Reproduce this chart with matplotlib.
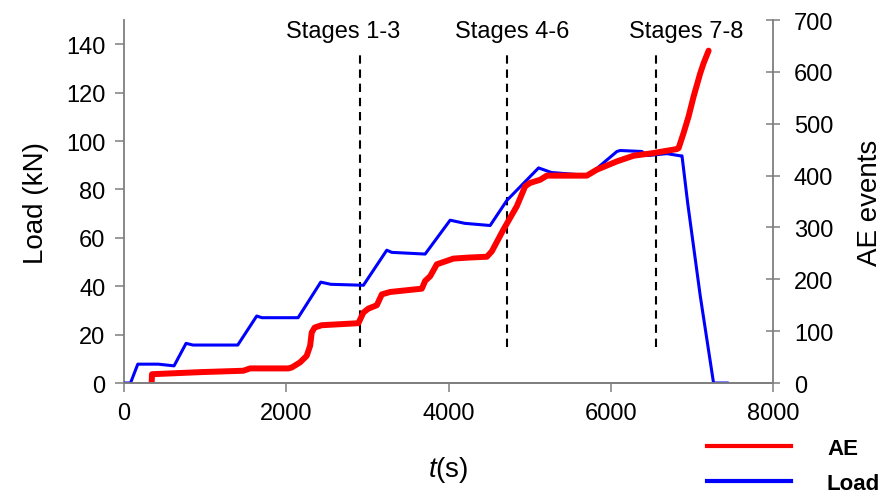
import matplotlib
matplotlib.use("Agg")
import matplotlib.pyplot as plt
from matplotlib.lines import Line2D

plt.rcParams['font.family'] = ['Liberation Sans', 'DejaVu Sans']
plt.rcParams['mathtext.fontset'] = 'custom'
plt.rcParams['mathtext.it'] = 'Liberation Sans:italic'
plt.rcParams['mathtext.rm'] = 'Liberation Sans'

# ---- data ----
load_t = [0, 80, 170, 420, 617, 765, 850, 1402, 1636, 1700, 2146, 2425, 2550, 2951,
          3239, 3300, 3712, 4020, 4200, 4513, 4720, 5110, 5270, 5727, 6076, 6116,
          6383, 6450, 6692, 6857, 6878, 6948, 7103, 7267, 7445]
load_kn = [0, 0, 7.8, 7.8, 7.1, 16.4, 15.7, 15.7, 27.7, 27.0, 27.0, 41.7, 40.8, 40.4,
           54.9, 54.0, 53.3, 67.3, 66.0, 65.1, 75.5, 88.9, 87.0, 85.8, 95.7, 96.1,
           95.7, 94.0, 94.8, 93.9, 93.9, 74.4, 36.0, 0, 0]

ae_t = [341, 345, 937, 1471, 1554, 2026, 2068, 2170, 2252, 2294, 2314, 2350, 2437,
        2889, 2951, 3013, 3116, 3178, 3280, 3671, 3712, 3774, 3856, 4061, 4250,
        4473, 4534, 4677, 4842, 4945, 5006, 5130, 5212, 5705, 5829, 6076, 6281,
        6528, 6816, 6836, 6897, 6959, 7021, 7103, 7144, 7206]
ae_events = [0, 17, 21, 23.7, 28.2, 28.2, 30, 39.8, 52.5, 71.7, 97.5, 107, 111.5,
             115.4, 136, 143.6, 150, 171, 175.6, 182, 197, 206, 229, 240, 242,
             243.6, 254, 296, 341, 379.5, 386, 392, 400, 400, 411.5, 427.5, 438.4,
             443.6, 451.3, 453, 482, 514, 552.5, 597.5, 616.7, 641]

stage_t = [2910, 4720, 6557]
stage_lo = [15, 15, 15]
stage_hi = [137, 137, 136]
stage_label_t = [2700, 4784, 6929]
stage_labels = ['Stages 1-3', 'Stages 4-6', 'Stages 7-8']

x_ticks = [0, 2000, 4000, 6000, 8000]
load_ticks = [0, 20, 40, 60, 80, 100, 120, 140]
ae_ticks = [0, 100, 200, 300, 400, 500, 600, 700]

# ---- figure ----
fig = plt.figure(figsize=(8.87, 5.02), dpi=100)
ax1 = fig.add_axes([0.1398, 0.235, 0.7317, 0.723])
ax2 = ax1.twinx()

spine_c = '#7f7f7f'
ax1.plot(load_t, load_kn, color='#0000ff', lw=2.2, solid_capstyle='round', zorder=3)
ax1.vlines(stage_t, stage_lo, stage_hi, colors='black', linestyles=(0, (4, 2.8)), lw=1.5)
for xt, lab in zip(stage_label_t, stage_labels):
    ax1.text(xt, 143, lab, ha='center', va='baseline', fontsize=17)

ax2.plot(ae_t, ae_events, color='#ff0000', lw=4.3, solid_capstyle='round',
         solid_joinstyle='round')

ax1.set_xlim(0, 8000)
ax1.set_ylim(0, 150)
ax2.set_ylim(0, 700)
ax1.set_xticks(x_ticks)
ax1.set_yticks(load_ticks)
ax2.set_yticks(ae_ticks)

for ax in (ax1, ax2):
    ax.spines['top'].set_visible(False)
    for s in ('left', 'right', 'bottom'):
        ax.spines[s].set_color(spine_c)
        ax.spines[s].set_linewidth(1.3)
ax2.spines['left'].set_visible(False)
ax1.spines['right'].set_visible(False)

ax1.tick_params(axis='both', direction='out', length=6.5, width=1.1, color=spine_c,
                labelsize=17, pad=7)
ax2.tick_params(axis='y', direction='inout', length=10, width=1.1, color=spine_c,
                labelsize=17, pad=10)

ax1.set_ylabel('Load (kN)', fontsize=20, labelpad=12)
ax2.set_ylabel('AE events', fontsize=20, labelpad=17)
ax1.set_xlabel('$t$(s)', fontsize=20, labelpad=22)

handles = [Line2D([], [], color='#ff0000', lw=3),
           Line2D([], [], color='#0000ff', lw=3)]
fig.legend(handles, ['AE', 'Load'], loc='upper left', bbox_to_anchor=(0.797, 0.125),
           frameon=False, handlelength=3.8, handletextpad=1.6, labelspacing=0.62,
           prop={'weight': 'bold', 'size': 16}, borderaxespad=0, borderpad=0)

fig.savefig('out.png', dpi=100)
